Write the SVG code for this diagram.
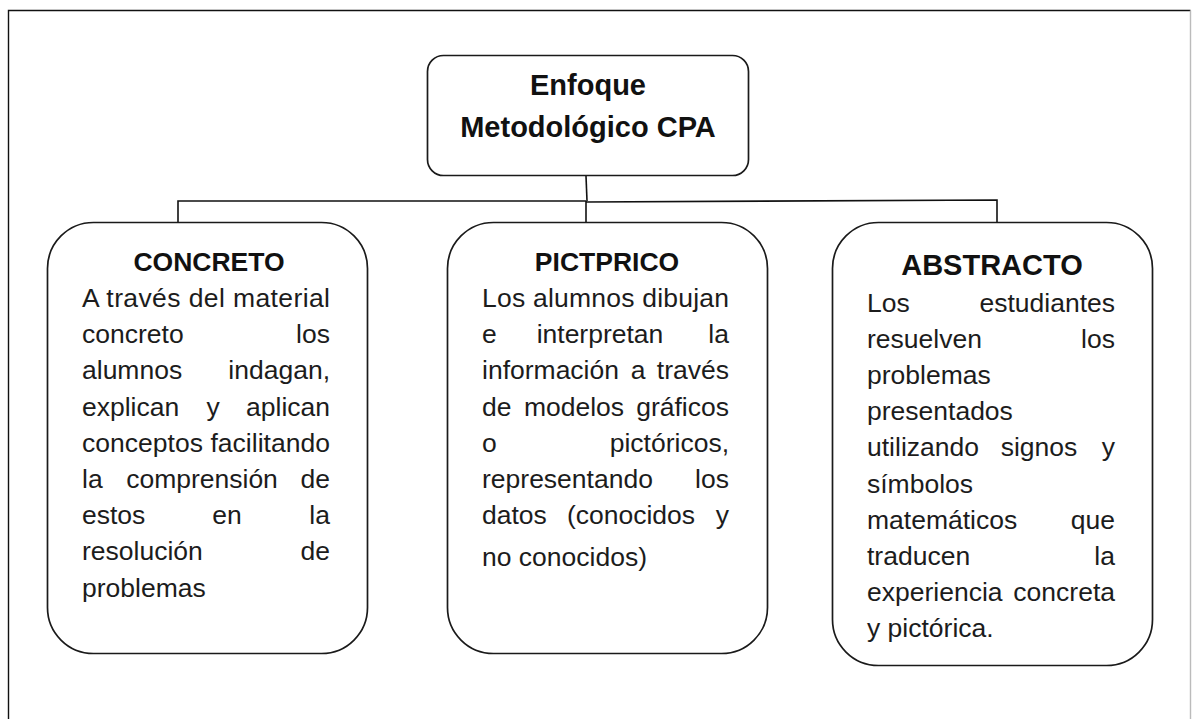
<svg xmlns="http://www.w3.org/2000/svg" width="1192" height="719" viewBox="0 0 1192 719">
<style>
.box{fill:#fff;stroke:#1a1a1a;stroke-width:1.7}
.conn{fill:none;stroke:#111;stroke-width:1.6}
.t{font-family:"Liberation Sans",Arial,sans-serif;font-size:26.5px;fill:#1c1c1c}
.h{font-family:"Liberation Sans",Arial,sans-serif;font-weight:bold;fill:#111;text-anchor:middle}
.e{text-anchor:end}
.m{text-anchor:middle}
</style>
<rect x="0" y="0" width="1192" height="719" fill="#fff"/>
<path d="M8.5 730 V10.5 H1190.5" fill="none" stroke="#111" stroke-width="1.4"/>
<line x1="1190.5" y1="10.5" x2="1190.5" y2="730" stroke="#bbb" stroke-width="1.4"/>

<g id="connectors">
  <path class="conn" d="M586 176 L587 201" stroke="#444"/>
  <path class="conn" d="M586 201 V222" stroke-width="2.4"/>
  <path class="conn" d="M586 201 H178 V222"/>
  <path class="conn" d="M586 202 L997 200 V222" stroke="#333"/>
</g>

<g id="node-root">
  <rect class="box" x="427.5" y="55.5" width="321" height="120" rx="16"/>
  <text class="h" x="588" y="95" font-size="29">Enfoque</text>
  <text class="h" x="588" y="137" font-size="29">Metodológico CPA</text>
</g>

<g id="node-concreto">
  <rect class="box" x="47.5" y="222.5" width="320" height="431" rx="46"/>
  <text class="h" x="209" y="271" font-size="26.5">CONCRETO</text>
  <text class="t" x="82" y="307" textLength="248" lengthAdjust="spacing">A través del material</text>
  <text class="t" x="82" y="343.2">concreto</text><text class="t e" x="330" y="343.2">los</text>
  <text class="t" x="82" y="379.4">alumnos</text><text class="t e" x="330" y="379.4">indagan,</text>
  <text class="t" x="82" y="415.6">explican</text><text class="t m" x="213" y="415.6">y</text><text class="t e" x="330" y="415.6">aplican</text>
  <text class="t" x="82" y="451.8" textLength="248" lengthAdjust="spacing">conceptos facilitando</text>
  <text class="t" x="82" y="488">la</text><text class="t m" x="202" y="488">comprensión</text><text class="t e" x="330" y="488">de</text>
  <text class="t" x="82" y="524.2">estos</text><text class="t m" x="227" y="524.2">en</text><text class="t e" x="330" y="524.2">la</text>
  <text class="t" x="82" y="560.4">resolución</text><text class="t e" x="330" y="560.4">de</text>
  <text class="t" x="82" y="596.6">problemas</text>
</g>

<g id="node-pictorico">
  <rect class="box" x="447.5" y="222.5" width="320" height="431" rx="46"/>
  <text class="h" x="607" y="271" font-size="26.5">PICTPRICO</text>
  <text class="t" x="482" y="307" textLength="247" lengthAdjust="spacing">Los alumnos dibujan</text>
  <text class="t" x="482" y="343.2">e</text><text class="t m" x="600" y="343.2">interpretan</text><text class="t e" x="729" y="343.2">la</text>
  <text class="t" x="482" y="379.4">información</text><text class="t m" x="638" y="379.4">a</text><text class="t e" x="729" y="379.4">través</text>
  <text class="t" x="482" y="415.6">de</text><text class="t m" x="574" y="415.6">modelos</text><text class="t e" x="729" y="415.6">gráficos</text>
  <text class="t" x="482" y="451.8">o</text><text class="t e" x="729" y="451.8">pictóricos,</text>
  <text class="t" x="482" y="488">representando</text><text class="t e" x="729" y="488">los</text>
  <text class="t" x="482" y="524.2">datos</text><text class="t m" x="631" y="524.2">(conocidos</text><text class="t e" x="729" y="524.2">y</text>
  <text class="t" x="482" y="566" font-size="29">no conocidos)</text>
</g>

<g id="node-abstracto">
  <rect class="box" x="832.5" y="222.5" width="320" height="443" rx="46"/>
  <text class="h" x="992" y="275" font-size="29">ABSTRACTO</text>
  <text class="t" x="867" y="312">Los</text><text class="t e" x="1115" y="312">estudiantes</text>
  <text class="t" x="867" y="348.1">resuelven</text><text class="t e" x="1115" y="348.1">los</text>
  <text class="t" x="867" y="384.2">problemas</text>
  <text class="t" x="867" y="420.3">presentados</text>
  <text class="t" x="867" y="456.4">utilizando</text><text class="t m" x="1039" y="456.4">signos</text><text class="t e" x="1115" y="456.4">y</text>
  <text class="t" x="867" y="492.5">símbolos</text>
  <text class="t" x="867" y="528.6">matemáticos</text><text class="t e" x="1115" y="528.6">que</text>
  <text class="t" x="867" y="564.7">traducen</text><text class="t e" x="1115" y="564.7">la</text>
  <text class="t" x="867" y="600.8">experiencia</text><text class="t e" x="1115" y="600.8">concreta</text>
  <text class="t" x="867" y="636.9">y pictórica.</text>
</g>
</svg>
